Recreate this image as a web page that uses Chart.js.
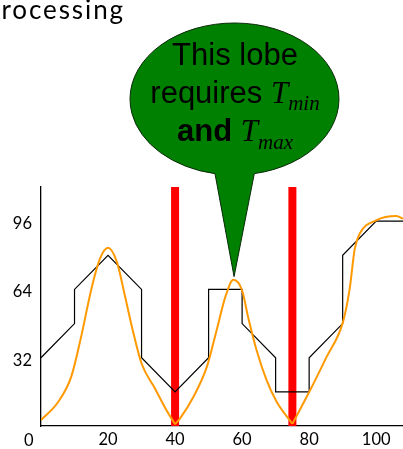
<!DOCTYPE html>
<html><head><meta charset="utf-8">
<script src="https://cdn.jsdelivr.net/npm/chart.js@4.4.0/dist/chart.umd.min.js"></script>
<style>
html,body{margin:0;padding:0;background:#fff;overflow:hidden}
#wrap{position:relative;width:403px;height:449px;overflow:hidden}
#c{position:absolute;left:0;top:0}
.t{position:absolute;white-space:nowrap;color:#000}
.bub{left:85px;width:300px;text-align:center;font-family:'Liberation Sans',Arial,sans-serif;font-size:31px;line-height:31px}
.T{font-family:'Liberation Serif','Times New Roman',serif;font-style:italic}
.sub{font-family:'Liberation Serif','Times New Roman',serif;font-style:italic;font-size:21px;position:relative;top:7.5px;line-height:0}
</style></head><body>
<div id="wrap">
<canvas id="c" width="403" height="449"></canvas>
<div class="t" style="right:278px;top:-4px;font-family:Lato,sans-serif;font-size:26px;line-height:26px;letter-spacing:1.9px">processing</div>
<div class="t bub" style="top:39px">This lobe</div>
<div class="t bub" style="top:76.5px">requires <span class="T">T</span><span class="sub">min</span></div>
<div class="t bub" style="top:115px"><b>and</b> <span class="T">T</span><span class="sub">max</span></div>
</div>
<script>
// ---- data ----
const xTickValues = [0, 20, 40, 60, 80, 100];
const yTickValues = [32, 64, 96];
const stepX = [0, 10, 10, 20, 30, 30, 40, 50, 50, 60, 60, 70, 70, 80, 80, 90, 90, 100, 108];
const stepY = [32, 48, 64, 80, 64, 32, 16, 32, 64, 64, 48, 32, 16, 16, 32, 48, 80, 96, 96];
const curveX = [0, 5, 9, 12, 15, 17.6, 20, 22.6, 25, 27.5, 30, 34, 37.4, 40,
                41.5, 45.5, 49.5, 52.4, 55, 57.4, 60, 61.8, 64.3, 67.3, 70.3, 75,
                80.2, 85.2, 90.1, 92.1, 93.6, 95.1, 100, 106, 108];
const curveY = [2.8, 11, 23, 42, 64, 78.4, 83.5, 77, 61.3, 44, 29.3, 17.6, 7.5, 0.8,
                3.6, 13.7, 27.8, 44.9, 60.5, 68.5, 63.5, 51, 35.6, 21.5, 11.4, 1,
                16.5, 32.4, 48.8, 64.4, 83, 90.2, 96.4, 98.4, 97.2];
const cuspX = [40, 75];
const markerX = [40, 75];
const calloutTarget = [57.6, 70];

// ---- build datasets ----
const curveSegments = [];
let seg = [];
curveX.forEach((x, i) => {
  seg.push({x: x, y: curveY[i]});
  if (cuspX.includes(x) && i < curveX.length - 1) { curveSegments.push(seg); seg = [{x: x, y: curveY[i]}]; }
});
curveSegments.push(seg);

const datasets = [];
curveSegments.forEach(s => datasets.push({
  data: s, borderColor: '#ff9900', borderWidth: 2, pointRadius: 0,
  cubicInterpolationMode: 'monotone', order: 1
}));
datasets.push({
  data: stepX.map((x, i) => ({x: x, y: stepY[i]})), borderColor: '#000', borderWidth: 1.2,
  pointRadius: 0, tension: 0, order: 2
});
markerX.forEach(m => datasets.push({
  data: [{x: m, y: 0}, {x: m, y: 112}], borderColor: '#ff0000', borderWidth: 8,
  borderCapStyle: 'butt', pointRadius: 0, tension: 0, order: 3
}));

const callout = {
  id: 'callout',
  afterDraw(chart) {
    const ctx = chart.ctx;
    const tx = chart.scales.x.getPixelForValue(calloutTarget[0]);
    const ty = chart.scales.y.getPixelForValue(calloutTarget[1]);
    const cx = 234.5, cy = 99, rx = 104.5, ry = 76;
    const bx1 = 254.3, bx2 = 215;
    const a1 = Math.atan2(Math.sqrt(1 - Math.pow((bx1 - cx) / rx, 2)), (bx1 - cx) / rx);
    const a2 = Math.atan2(Math.sqrt(1 - Math.pow((bx2 - cx) / rx, 2)), (bx2 - cx) / rx);
    ctx.save();
    ctx.beginPath();
    ctx.moveTo(tx, ty);
    ctx.lineTo(cx + rx * Math.cos(a1), cy + ry * Math.sin(a1));
    ctx.ellipse(cx, cy, rx, ry, 0, a1, a2, true);
    ctx.closePath();
    ctx.fillStyle = '#008000';
    ctx.fill();
    ctx.lineWidth = 1;
    ctx.strokeStyle = '#0a2a0a';
    ctx.stroke();
    // the x-axis "0" label sits left of the axis corner in the reference
    ctx.fillStyle = '#000';
    ctx.font = '16.5px Lato';
    ctx.textAlign = 'center';
    ctx.textBaseline = 'alphabetic';
    ctx.fillText(String(xTickValues[0]), 28.7, 446);
    ctx.restore();
  }
};

const tickFont = {family: 'Lato', size: 16.5};
new Chart(document.getElementById('c'), {
  type: 'line',
  data: {datasets: datasets},
  options: {
    responsive: false, animation: false, devicePixelRatio: 1,
    layout: {padding: {top: 187, left: 0, right: 0, bottom: 0}},
    plugins: {legend: {display: false}, tooltip: {enabled: false}},
    scales: {
      x: {
        type: 'linear', min: 0, max: 108,
        afterBuildTicks: s => { s.ticks = xTickValues.map(v => ({value: v})); },
        afterFit: s => { s.height = 23; },
        ticks: {font: tickFont, color: '#000', padding: 4, callback: v => v === 0 ? '' : v},
        grid: {display: false, drawTicks: false},
        border: {display: true, color: '#000', width: 1.3}
      },
      y: {
        type: 'linear', min: 0, max: 112,
        afterBuildTicks: s => { s.ticks = yTickValues.map(v => ({value: v})); },
        afterFit: s => { s.width = 41; },
        ticks: {font: tickFont, color: '#000', padding: 9, labelOffset: 2.5},
        grid: {display: false, drawTicks: false},
        border: {display: true, color: '#000', width: 1.3}
      }
    }
  },
  plugins: [callout]
});
</script>
</body></html>
